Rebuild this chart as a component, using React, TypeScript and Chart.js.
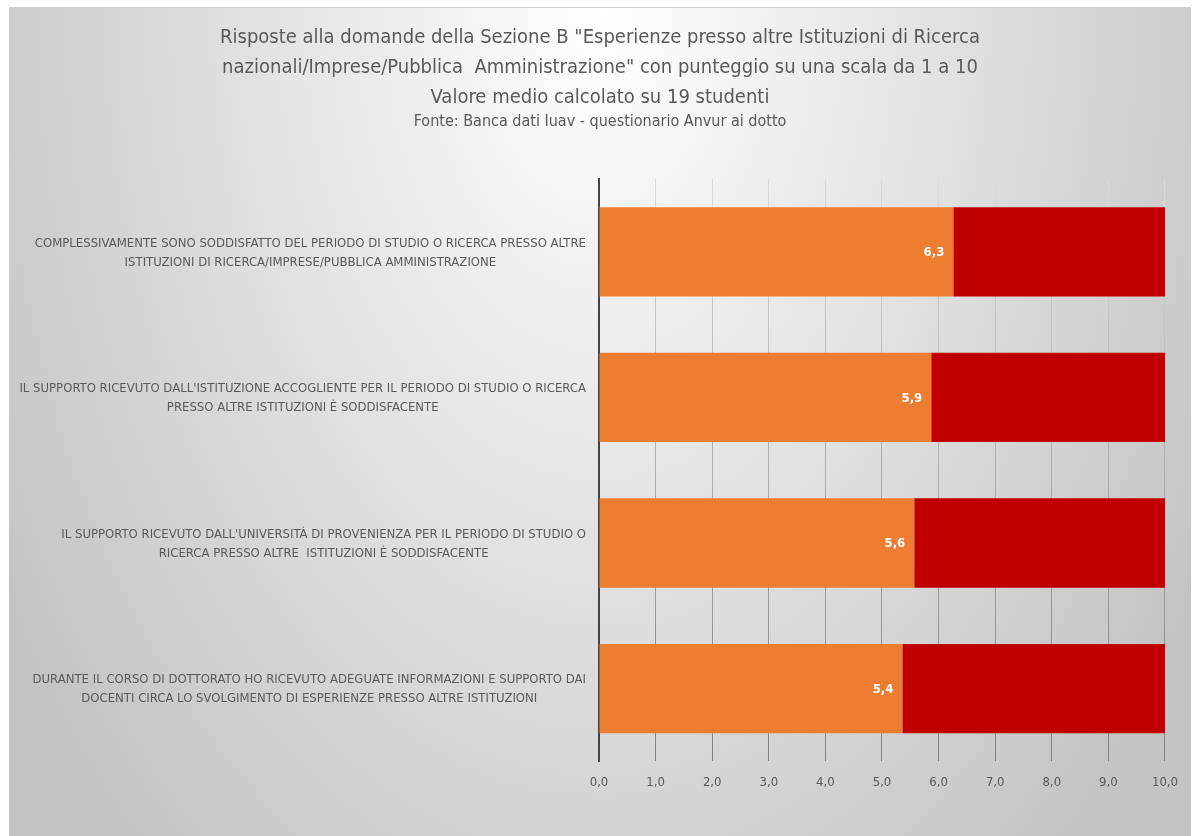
import React, { useEffect, useRef } from "react";
import { Chart, registerables } from "chart.js";

Chart.register(...registerables);

const categories: string[][] = [
  ["COMPLESSIVAMENTE SONO SODDISFATTO DEL PERIODO DI STUDIO O RICERCA PRESSO ALTRE", "ISTITUZIONI DI RICERCA/IMPRESE/PUBBLICA AMMINISTRAZIONE"],
  ["IL SUPPORTO RICEVUTO DALL'ISTITUZIONE ACCOGLIENTE PER IL PERIODO DI STUDIO O RICERCA", "PRESSO ALTRE ISTITUZIONI È SODDISFACENTE"],
  ["IL SUPPORTO RICEVUTO DALL'UNIVERSITÀ DI PROVENIENZA PER IL PERIODO DI STUDIO O", "RICERCA PRESSO ALTRE  ISTITUZIONI È SODDISFACENTE"],
  ["DURANTE IL CORSO DI DOTTORATO HO RICEVUTO ADEGUATE INFORMAZIONI E SUPPORTO DAI", "DOCENTI CIRCA LO SVOLGIMENTO DI ESPERIENZE PRESSO ALTRE ISTITUZIONI"],
];
const meanScores: number[] = [6.26, 5.87, 5.57, 5.36];
const remainders: number[] = [3.74, 4.13, 4.43, 4.64];
const titleLines: string[] = [
  'Risposte alla domande della Sezione B "Esperienze presso altre Istituzioni di Ricerca',
  'nazionali/Imprese/Pubblica  Amministrazione" con punteggio su una scala da 1 a 10',
  "Valore medio calcolato su 19 studenti",
];
const subtitleText = "Fonte: Banca dati Iuav - questionario Anvur ai dotto";

const FONT = "'DejaVu Sans Condensed', 'DejaVu Sans', sans-serif";
const TEXT_COLOR = "#595959";

const fmt = (v: number) => v.toFixed(1).replace(".", ",");

const categoryLabelsPlugin = {
  id: "categoryLabels",
  afterDraw(chart: any) {
    const { ctx, scales } = chart;
    const y = scales.y;
    const right = chart.chartArea.left - 13;
    ctx.save();
    ctx.font = `13px ${FONT}`;
    ctx.fillStyle = TEXT_COLOR;
    ctx.textAlign = "center";
    ctx.textBaseline = "middle";
    const lh = 19;
    categories.forEach((lines, i) => {
      const cy = y.getPixelForValue(i);
      const w = Math.max(...lines.map((l) => ctx.measureText(l).width));
      const cx = right - w / 2;
      const startY = cy - ((lines.length - 1) * lh) / 2 + 1;
      lines.forEach((l, j) => ctx.fillText(l, cx, startY + j * lh));
    });
    ctx.restore();
  },
};

const valueLabelsPlugin = {
  id: "valueLabels",
  afterDatasetsDraw(chart: any) {
    const { ctx } = chart;
    const meta = chart.getDatasetMeta(0);
    ctx.save();
    ctx.font = `bold 13px ${FONT}`;
    ctx.fillStyle = "#ffffff";
    ctx.textAlign = "right";
    ctx.textBaseline = "middle";
    meta.data.forEach((bar: any, i: number) => {
      ctx.fillText(fmt(meanScores[i]), bar.x - 9, bar.y + 1);
    });
    ctx.restore();
  },
};

export default function App() {
  const ref = useRef<HTMLCanvasElement | null>(null);
  useEffect(() => {
    if (!ref.current) return;
    const chart = new Chart(ref.current, {
      type: "bar",
      data: {
        labels: categories.map((c) => c.join(" ")),
        datasets: [
          { label: "Media", data: meanScores, backgroundColor: "#ED7D31", borderWidth: 0 },
          { label: "Resto", data: remainders, backgroundColor: "#C00000", borderWidth: 0 },
        ],
      },
      options: {
        indexAxis: "y",
        animation: false,
        responsive: true,
        maintainAspectRatio: false,
        layout: { padding: { left: 26, right: 26, top: 0, bottom: 33 } },
        datasets: { bar: { barPercentage: 0.613, categoryPercentage: 1 } },
        plugins: {
          legend: { display: false },
          tooltip: { enabled: false },
          title: {
            display: true,
            text: titleLines,
            color: TEXT_COLOR,
            font: { family: FONT, size: 20, weight: "normal", lineHeight: "30px" },
            padding: { top: 15, bottom: 0 },
          },
          subtitle: {
            display: true,
            text: subtitleText,
            color: TEXT_COLOR,
            font: { family: FONT, size: 16, weight: "normal", lineHeight: "18px" },
            padding: { top: 0, bottom: 48 },
          },
        },
        scales: {
          x: {
            stacked: true,
            min: 0,
            max: 10,
            ticks: {
              stepSize: 1,
              color: TEXT_COLOR,
              font: { family: FONT, size: 13 },
              padding: 13,
              callback: (v: any) => fmt(Number(v)),
            },
            grid: {
              drawTicks: false,
              lineWidth: 1,
              color: (c: any) => {
                const ch = c.chart;
                const area = ch.chartArea;
                if (!area) return "#bfbfbf";
                const g = ch.ctx.createLinearGradient(0, area.top, 0, area.bottom);
                g.addColorStop(0, "#dadada");
                g.addColorStop(1, "#808080");
                return g;
              },
            },
            border: { display: false },
          },
          y: {
            stacked: true,
            ticks: { display: false },
            grid: { display: false },
            border: { display: true, color: "#444444", width: 2 },
            afterFit: (scale: any) => {
              scale.width = 564;
            },
          },
        },
      },
      plugins: [categoryLabelsPlugin, valueLabelsPlugin],
    });
    return () => chart.destroy();
  }, []);

  return (
    <div
      style={{
        position: "absolute",
        left: 9,
        top: 7,
        width: 1182,
        height: 829,
        borderTop: "1px solid #d0d0d0",
        boxSizing: "border-box",
        background: "radial-gradient(ellipse 695px 1105px at 50% 0%, #ffffff 0%, #c4c4c4 100%)",
      }}
    >
      <canvas ref={ref} />
    </div>
  );
}
